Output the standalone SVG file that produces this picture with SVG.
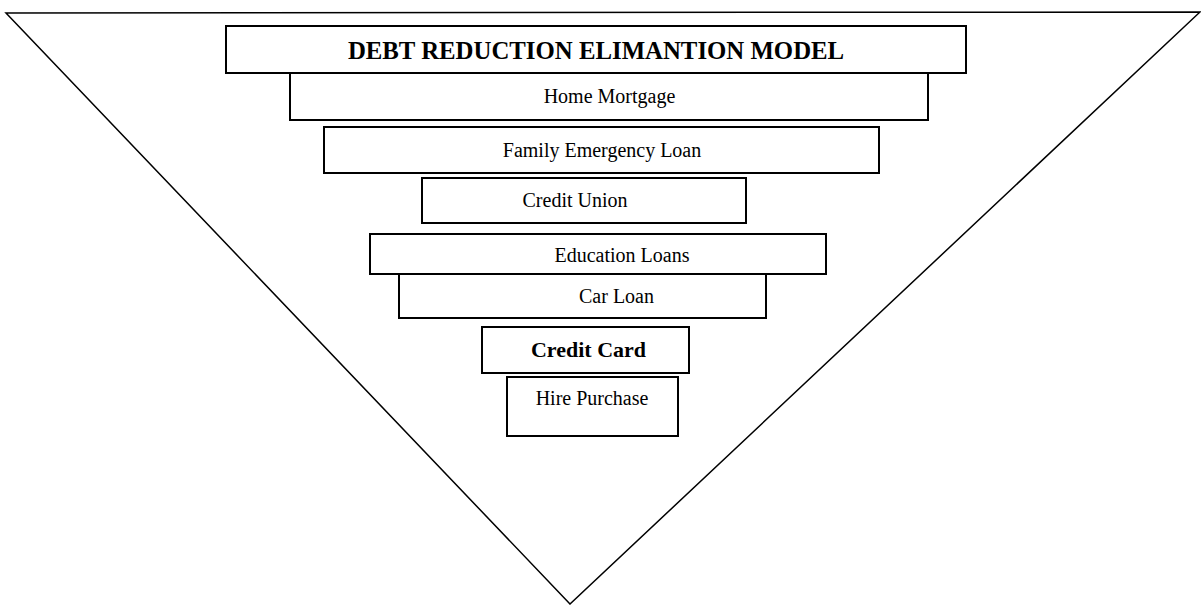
<svg xmlns="http://www.w3.org/2000/svg" width="1201" height="605" viewBox="0 0 1201 605">
<style>
.box{fill:#fff;stroke:#000;stroke-width:2}
.t{font-family:"Liberation Serif","Times New Roman",serif;font-size:20px;fill:#000;text-anchor:middle}
.b{font-weight:bold}
</style>
<rect width="1201" height="605" fill="#fff"/>
<g id="funnel">
<polygon points="6,13 1200,12 570,604" fill="none" stroke="#000" stroke-width="1.5"/>
</g>
<g id="title"><rect class="box" x="226" y="26" width="740" height="47"/><text class="t b" x="596" y="59" style="font-size:24.8px">DEBT REDUCTION ELIMANTION MODEL</text></g>
<g id="home-mortgage"><rect class="box" x="290" y="73" width="638" height="47"/><text class="t" x="609.5" y="103">Home Mortgage</text></g>
<g id="family-emergency-loan"><rect class="box" x="324" y="127" width="555" height="46"/><text class="t" x="602" y="157">Family Emergency Loan</text></g>
<g id="credit-union"><rect class="box" x="422" y="178" width="324" height="45"/><text class="t" x="575" y="207">Credit Union</text></g>
<g id="education-loans"><rect class="box" x="370" y="234" width="456" height="40"/><text class="t" x="622" y="262">Education Loans</text></g>
<g id="car-loan"><rect class="box" x="399" y="274" width="367" height="44"/><text class="t" x="616.5" y="302.5">Car Loan</text></g>
<g id="credit-card"><rect class="box" x="482" y="327" width="207" height="46"/><text class="t b" x="588.5" y="357" style="font-size:22px">Credit Card</text></g>
<g id="hire-purchase"><rect class="box" x="507" y="377" width="171" height="59"/><text class="t" x="592" y="405">Hire Purchase</text></g>
<g id="connectors"></g>
</svg>
